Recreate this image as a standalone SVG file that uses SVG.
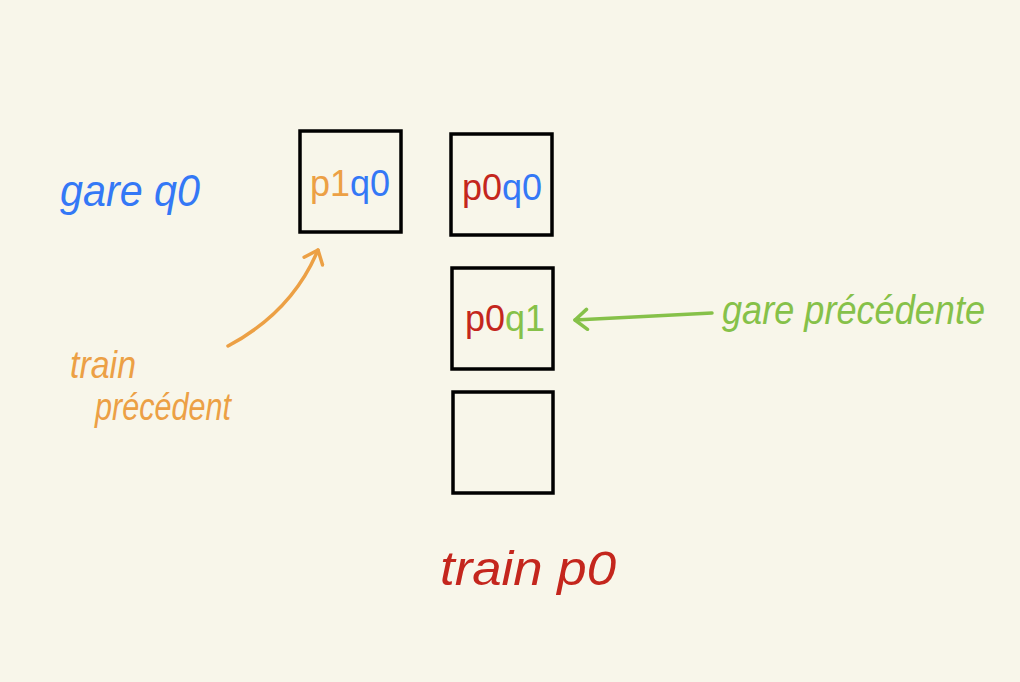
<svg xmlns="http://www.w3.org/2000/svg" width="1020" height="682" viewBox="0 0 1020 682">
<defs>
<style>
.box{fill:none;stroke:#000;stroke-width:3.5}
.t{font-family:"Liberation Sans",Arial,sans-serif;font-style:italic}
.b{font-family:"Liberation Sans",Arial,sans-serif;font-size:36px}
.blue{fill:#3478f6}.orange{fill:#eca045}.red{fill:#c4261d}.green{fill:#86c149}
.conn{fill:none;stroke-width:3.5;stroke-linecap:round;stroke-linejoin:round}
</style>
<marker id="hg" viewBox="0 0 20 24" refX="18" refY="12" markerWidth="20" markerHeight="24" markerUnits="userSpaceOnUse" orient="auto">
<path d="M6,2 L18,12 L6,22" fill="none" stroke="#86c149" stroke-width="3.5" stroke-linecap="round" stroke-linejoin="round"/>
</marker>
<marker id="ho" viewBox="0 0 20 24" refX="18" refY="12" markerWidth="20" markerHeight="24" markerUnits="userSpaceOnUse" orient="auto">
<path d="M6,2 L18,12 L6,22" fill="none" stroke="#eca045" stroke-width="3.5" stroke-linecap="round" stroke-linejoin="round"/>
</marker>
</defs>
<rect width="1020" height="682" fill="#f8f6ea"/>
<g id="label-gare-q0"><text class="t blue" x="60" y="206" font-size="44" textLength="140" lengthAdjust="spacingAndGlyphs">gare q0</text></g>
<g id="node-p1q0"><rect class="box" x="300" y="131" width="101" height="101"/>
<text class="b" x="310" y="196"><tspan class="orange">p1</tspan><tspan class="blue">q0</tspan></text></g>
<g id="node-p0q0"><rect class="box" x="451" y="134" width="101" height="101"/>
<text class="b" x="462" y="200"><tspan class="red">p0</tspan><tspan class="blue">q0</tspan></text></g>
<g id="node-p0q1"><rect class="box" x="452" y="268" width="101" height="101"/>
<text class="b" x="465" y="331"><tspan class="red">p0</tspan><tspan class="green">q1</tspan></text></g>
<g id="node-empty"><rect class="box" x="453" y="392" width="100" height="101"/></g>
<g id="label-gare-precedente"><text class="t green" x="722" y="324" font-size="40" textLength="263" lengthAdjust="spacingAndGlyphs">gare précédente</text></g>
<g id="label-train-precedent"><text class="t orange" font-size="38"><tspan x="70" y="378" textLength="66" lengthAdjust="spacingAndGlyphs">train</tspan><tspan x="95" y="420" textLength="136" lengthAdjust="spacingAndGlyphs">précédent</tspan></text></g>
<g id="label-train-p0"><text class="t red" x="440" y="585" font-size="48" textLength="176" lengthAdjust="spacingAndGlyphs">train p0</text></g>
<g id="connectors">
<path class="conn" stroke="#86c149" d="M712,313 L575,320" marker-end="url(#hg)"/>
<path class="conn" stroke="#eca045" d="M228,346 Q292,312 318,250" marker-end="url(#ho)"/>
</g>
</svg>
